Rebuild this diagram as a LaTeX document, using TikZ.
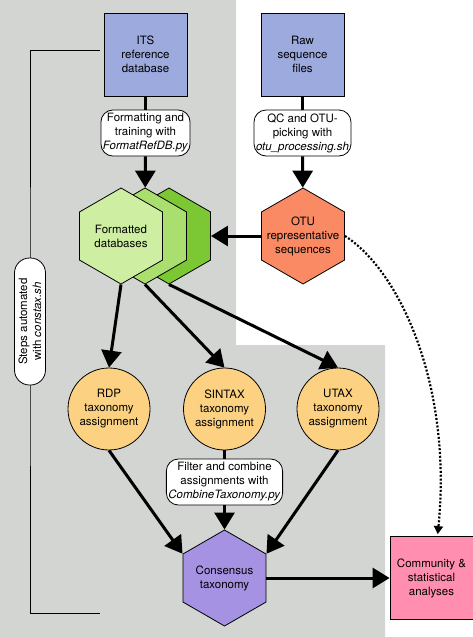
\documentclass[tikz,border=0pt]{standalone}
\usepackage{fontspec}
\setmainfont{TeX Gyre Heros}
\usetikzlibrary{arrows.meta,shapes.geometric}
\definecolor{bggray}{RGB}{211,213,211}
\definecolor{srcblue}{RGB}{156,170,222}
\definecolor{dbA}{RGB}{206,238,162}
\definecolor{dbB}{RGB}{170,222,110}
\definecolor{dbC}{RGB}{124,200,52}
\definecolor{otuorange}{RGB}{250,138,100}
\definecolor{taxorange}{RGB}{252,210,130}
\definecolor{conspurple}{RGB}{166,146,226}
\definecolor{commpink}{RGB}{255,142,176}
\begin{document}
\begin{tikzpicture}[x=1pt,y=-1pt,>={Triangle[length=17pt,width=20pt]},
  every node/.style={font=\fontsize{11.5}{14}\selectfont,align=center,line width=0.8pt},
  srcbox/.style={draw,fill=srcblue,minimum width=83pt,minimum height=83pt,inner sep=0pt},
  hexa/.style={draw,regular polygon,regular polygon sides=6,shape border rotate=90,
    minimum size=96pt,inner sep=0pt},
  ball/.style={draw,circle,fill=taxorange,minimum size=82pt,inner sep=0pt},
  tag/.style={draw,fill=white,rounded corners=12pt,minimum height=46pt,inner xsep=2pt,inner ysep=1pt},
  flow/.style={line width=3pt}]
 	\useasboundingbox (0,0) rectangle (473,637);
 	\fill[bggray] (0,0) -- (236,0) |- (385,345) |- (0,637) -- cycle;
 	% sources
 	\path (145.5,54.5) node[srcbox] (its) {ITS\\reference\\database}
 	      (302.5,54.5) node[srcbox] (raw) {Raw\\sequence\\files};
 	\path (145.5,133) node[tag] (tagits) {Formatting and\\training with\\\textit{FormatRefDB.py}}
 	      (302.5,133) node[tag] (tagraw) {QC and OTU-\\picking with\\\textit{otu\_processing.sh}};
 	% formatted databases, back to front
 	\path (169,236) node[hexa,fill=dbC] (db3) {}
 	      (145,236) node[hexa,fill=dbB] (db2) {}
 	      (121,236) node[hexa,fill=dbA,label={center:Formatted\\databases}] (db1) {}
 	      (303,236) node[hexa,fill=otuorange,label={center:OTU\\representative\\sequences}] (otu) {};
 	% classifiers
 	\path (109,409) node[ball] (rdp) {RDP\\taxonomy\\assignment}
 	      (224.5,409) node[ball] (sintax) {SINTAX\\taxonomy\\assignment}
 	      (338,409) node[ball] (utax) {UTAX\\taxonomy\\assignment};
 	\path (224.5,482) node[tag] (tagfilt) {Filter and combine\\assignments with\\\textit{CombineTaxonomy.py}};
 	\path (224.5,578) node[hexa,fill=conspurple,label={center:Consensus\\taxonomy}] (cons) {}
 	      (431.5,578) node[srcbox,fill=commpink] (comm) {Community \&\\statistical\\analyses};
 	% bracket for the automated steps
 	\coordinate (bt) at (100,50);
 	\coordinate (bb) at (100,613);
 	\draw[line width=1pt] (bt) -| (30,321.5) |- (bb);
 	\path (30,321.5) node[tag,rotate=90,minimum width=127pt,minimum height=31pt,rounded corners=15pt] (steps)
 	      {Steps automated\\with \textit{constax.sh}};
 	% connectors
 	\foreach \x/\y in {its/tagits, raw/tagraw, sintax/tagfilt}{%
 		\draw[flow] (\x) -- (\y);
 	}%
 	\foreach \x/\y in {tagits/db2, tagraw/otu, otu/db3, db1.south/rdp.north,
 		db2.south/sintax.north, db3.south/utax.north, rdp.south/cons.150,
 		tagfilt/cons, utax.south/cons.30, cons/comm}{%
 		\draw[flow,->] (\x) -- (\y);
 	}%
 	\draw[line width=2.2pt,dash pattern=on 2pt off 1.8pt,-{Triangle[length=8pt,width=9pt]},shorten >=2pt]
 		(otu.east) .. controls +(55,35) and +(15,-150) .. ([xshift=6pt]comm.north);
\end{tikzpicture}
\end{document}
